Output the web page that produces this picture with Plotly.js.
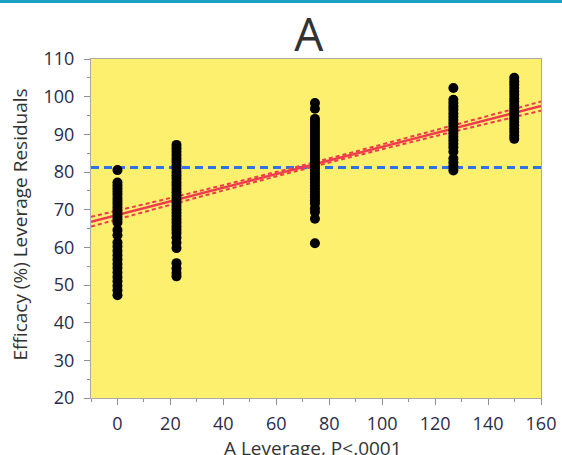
<!DOCTYPE html>
<html>
<head>
<meta charset="utf-8">
<script src="https://cdn.plot.ly/plotly-3.0.1.min.js"></script>
<style>
  html, body { margin: 0; padding: 0; background: #ffffff; }
  #topbar { position: absolute; left: 0; top: 0; width: 562px; height: 3px; background: #1ba1c1; }
  #chart { width: 562px; height: 455px; }
</style>
</head>
<body>
<div id="chart"></div>
<div id="topbar"></div>
<script>
// Leverage residuals of Efficacy (%) against factor A, one column per A level
const levelX = [0, 22.3, 74.6, 126.9, 149.9];

const resid0 = [80.5, 77.2, 76.4, 75.6, 74.8, 74.0, 73.1, 72.3, 71.5, 70.6, 69.8, 69.0,
  68.2, 67.4, 66.6, 64.6, 63.2, 61.3, 60.2, 59.0, 57.9, 56.8, 55.6, 54.5, 53.3, 52.1,
  51.0, 49.8, 48.6, 47.3];
const resid1 = [87.2, 86.3, 85.4, 84.5, 83.6, 82.7, 81.8, 80.9, 80.0, 79.1, 78.2, 77.3,
  76.4, 75.5, 74.6, 73.7, 72.8, 71.9, 71.0, 70.1, 69.2, 68.3, 67.4, 66.5, 65.6, 64.7,
  63.8, 62.6, 61.2, 59.8, 55.8, 54.4, 53.2, 52.3];
const resid2 = [98.3, 96.8, 94.1, 93.3, 92.5, 91.7, 90.9, 90.1, 89.3, 88.5, 87.7, 86.9,
  86.1, 85.3, 84.5, 83.7, 82.9, 82.1, 81.3, 80.5, 79.7, 78.9, 78.1, 77.3, 76.5, 75.7,
  74.9, 74.1, 73.3, 72.5, 71.7, 70.4, 69.4, 67.6, 61.1];
const resid3 = [102.3, 99.2, 98.3, 97.4, 96.5, 95.6, 94.7, 93.8, 92.9, 92.0, 91.1, 90.2,
  89.3, 88.4, 87.5, 86.6, 85.4, 83.6, 82.5, 81.5, 80.4];
const resid4 = [105.0, 104.1, 103.2, 102.3, 101.4, 100.5, 99.6, 98.7, 97.8, 96.9, 96.0,
  95.1, 94.2, 93.3, 92.4, 91.5, 90.6, 89.6, 88.8];
const residGroups = [resid0, resid1, resid2, resid3, resid4];

// Fitted leverage line and its confidence curves
const fitX = [-10, 160];
const fitY = [66.8, 97.5];
const bandX = [-10, 30, 75, 120, 160];
const bandUpper = [68.1, 74.8, 82.7, 91.1, 98.7];
const bandLower = [65.5, 73.2, 81.6, 89.5, 96.3];

// Mean of the response
const meanX = [-10, 160];
const meanY = [81.2, 81.2];

// Axis ticks
const xTicks = [0, 20, 40, 60, 80, 100, 120, 140, 160];
const yTicks = [20, 30, 40, 50, 60, 70, 80, 90, 100, 110];

const ptsX = [];
const ptsY = [];
residGroups.forEach((g, i) => g.forEach(v => { ptsX.push(levelX[i]); ptsY.push(v); }));

const red = '#ef3b4c';
const traces = [
  { x: meanX, y: meanY, mode: 'lines', line: { color: '#2f72e6', width: 3, dash: '8px,5px' }, hoverinfo: 'skip' },
  { x: bandX, y: bandUpper, mode: 'lines', line: { color: red, width: 2, dash: '4px,3px', shape: 'spline' }, hoverinfo: 'skip' },
  { x: bandX, y: bandLower, mode: 'lines', line: { color: red, width: 2, dash: '4px,3px', shape: 'spline' }, hoverinfo: 'skip' },
  { x: fitX, y: fitY, mode: 'lines', line: { color: red, width: 2.5 }, hoverinfo: 'skip' },
  { x: ptsX, y: ptsY, mode: 'markers', marker: { color: '#000000', size: 10 } }
];

const tickFont = { family: 'Open Sans, sans-serif', size: 18, color: '#2b2b4a' };
const titleFont = { family: 'Open Sans, sans-serif', size: 19, color: '#333333' };
const axisCommon = {
  showgrid: false, zeroline: false, showline: true, mirror: true,
  linecolor: '#a9a9a9', linewidth: 1,
  ticks: 'outside', ticklen: 6, tickcolor: '#8f8f8f', tickwidth: 1,
  tickfont: tickFont
};

const layout = {
  width: 562, height: 455,
  margin: { l: 91, r: 21, t: 59, b: 57 },
  paper_bgcolor: '#ffffff',
  plot_bgcolor: '#fdf06f',
  showlegend: false,
  title: {
    text: 'A',
    font: { family: 'Open Sans, sans-serif', size: 46, color: '#333333' },
    x: 0.484, xref: 'paper', xanchor: 'center',
    y: 0.924, yref: 'container', yanchor: 'middle'
  },
  xaxis: Object.assign({}, axisCommon, {
    range: [-10, 160], tickvals: xTicks, ticktext: xTicks.map(String),
    ticklabelstandoff: 3,
    minor: { dtick: 10, ticklen: 3, tickcolor: '#8f8f8f', ticks: 'outside' }
  }),
  yaxis: Object.assign({}, axisCommon, {
    range: [20, 110], tickvals: yTicks, ticktext: yTicks.map(String),
    ticklabelstandoff: 6,
    minor: { dtick: 5, ticklen: 3, tickcolor: '#8f8f8f', ticks: 'outside' }
  }),
  annotations: [
    { text: 'A Leverage, P<.0001', font: titleFont, showarrow: false,
      xref: 'paper', yref: 'paper', x: 0.493, y: 0, xanchor: 'center', yanchor: 'middle', yshift: -50 },
    { text: 'Efficacy (%) Leverage Residuals', font: titleFont, showarrow: false, textangle: -90,
      xref: 'paper', yref: 'paper', x: 0, y: 0.5, xanchor: 'center', yanchor: 'middle', xshift: -72, yshift: 4 }
  ]
};

Plotly.newPlot('chart', traces, layout, { staticPlot: true, displayModeBar: false });
</script>
</body>
</html>
